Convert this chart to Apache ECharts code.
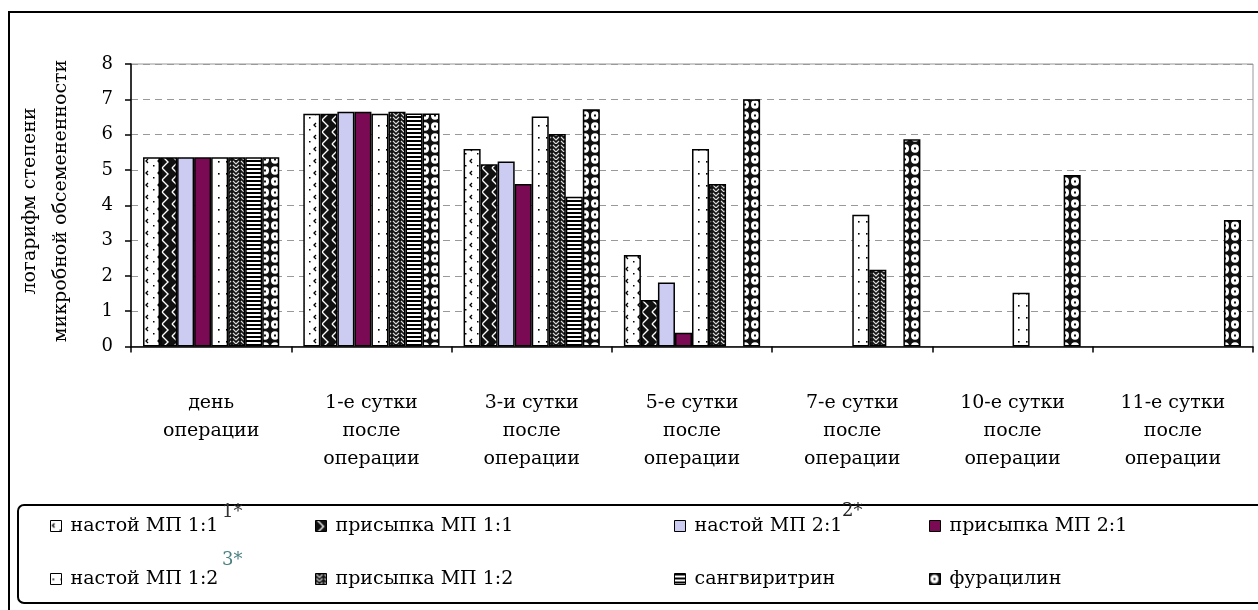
<!DOCTYPE html>
<html>
<head>
<meta charset="utf-8">
<script src="https://cdn.jsdelivr.net/npm/echarts@6/dist/echarts.min.js"></script>
<style>
html,body{margin:0;padding:0;background:#fff;}
#chart{width:1258px;height:610px;}
</style>
</head>
<body>
<div id="chart"></div>
<script>
const categories = ['день\nоперации', '1-е сутки\nпосле\nоперации', '3-и сутки\nпосле\nоперации', '5-е сутки\nпосле\nоперации', '7-е сутки\nпосле\nоперации', '10-е сутки\nпосле\nоперации', '11-е сутки\nпосле\nоперации'];
const seriesNames = ['настой МП 1:1', 'присыпка МП 1:1', 'настой МП 2:1', 'присыпка МП 2:1', 'настой МП 1:2', 'присыпка МП 1:2', 'сангвиритрин', 'фурацилин'];
const nastoy11 = [5.36, 6.59, 5.59, 2.59, null, null, null];
const prisypka11 = [5.36, 6.59, 5.16, 1.32, null, null, null];
const nastoy21 = [5.36, 6.65, 5.24, 1.81, null, null, null];
const prisypka21 = [5.36, 6.65, 4.60, 0.39, null, null, null];
const nastoy12 = [5.36, 6.59, 6.51, 5.59, 3.73, 1.52, null];
const prisypka12 = [5.36, 6.65, 6.02, 4.60, 2.17, null, null];
const sangviritrin = [5.36, 6.60, 4.24, null, null, null, null];
const furacilin = [5.36, 6.60, 6.72, 7.00, 5.87, 4.86, 3.58];
const yTicks = [0, 1, 2, 3, 4, 5, 6, 7, 8];

const FONT = 'DejaVu Serif';

function tile(w, h, draw) {
  const c = document.createElement('canvas');
  c.width = w; c.height = h;
  const ctx = c.getContext('2d');
  draw(ctx, w, h);
  return c;
}
const patterns = [
  // настой МП 1:1 : white with sparse small marks
  tile(12, 12, (ctx) => {
    ctx.fillStyle = '#fff'; ctx.fillRect(0, 0, 12, 12);
    ctx.strokeStyle = '#000'; ctx.lineWidth = 1.3;
    ctx.beginPath(); ctx.moveTo(4, 3); ctx.lineTo(2, 5); ctx.lineTo(4, 7); ctx.stroke();
    ctx.fillStyle = '#000'; ctx.fillRect(9, 9, 1.5, 1.5);
  }),
  // присыпка МП 1:1 : black with white zigzag
  tile(10, 12, (ctx) => {
    ctx.fillStyle = '#111'; ctx.fillRect(0, 0, 10, 12);
    ctx.strokeStyle = '#fff'; ctx.lineWidth = 1.4;
    ctx.beginPath(); ctx.moveTo(2, 0); ctx.lineTo(8, 6); ctx.lineTo(2, 12); ctx.stroke();
  }),
  '#ccccf2',
  '#7b0a55',
  // настой МП 1:2 : white with sparse dots
  tile(8, 12, (ctx) => {
    ctx.fillStyle = '#fff'; ctx.fillRect(0, 0, 8, 12);
    ctx.fillStyle = '#000'; ctx.fillRect(2, 5, 1.6, 1.6);
  }),
  // присыпка МП 1:2 : dark with white chevrons
  tile(8, 8, (ctx) => {
    ctx.fillStyle = '#151515'; ctx.fillRect(0, 0, 8, 8);
    ctx.strokeStyle = '#ddd'; ctx.lineWidth = 1.1;
    ctx.beginPath(); ctx.moveTo(1, 1); ctx.lineTo(4, 4); ctx.lineTo(7, 1); ctx.stroke();
    ctx.beginPath(); ctx.moveTo(1, 5); ctx.lineTo(4, 8); ctx.lineTo(7, 5); ctx.stroke();
  }),
  // сангвиритрин : horizontal stripes
  tile(4, 4, (ctx) => {
    ctx.fillStyle = '#fff'; ctx.fillRect(0, 0, 4, 4);
    ctx.fillStyle = '#000'; ctx.fillRect(0, 0, 4, 2);
  }),
  // фурацилин : black with white circles
  tile(10, 11, (ctx) => {
    ctx.fillStyle = '#111'; ctx.fillRect(0, 0, 10, 11);
    ctx.fillStyle = '#fff';
    ctx.beginPath(); ctx.ellipse(5, 5.5, 4, 4.2, 0, 0, Math.PI * 2); ctx.fill();
    ctx.fillStyle = '#111'; ctx.fillRect(4, 4.5, 2, 2);
  })
];
const dataArrays = [nastoy11, prisypka11, nastoy21, prisypka21, nastoy12, prisypka12, sangviritrin, furacilin];

function fill(i) {
  const p = patterns[i];
  return typeof p === 'string' ? p : { image: p, repeat: 'repeat' };
}

const series = seriesNames.map((name, i) => ({
  name: name,
  type: 'bar',
  data: dataArrays[i],
  barGap: '0%',
  barCategoryGap: '15%',
  itemStyle: { color: fill(i), borderColor: '#000', borderWidth: 1.5 },
  emphasis: { disabled: true },
  animation: false
}));

const legendCols = [45, 310, 669, 924];
const legends = legendCols.map((x, c) => ({
  orient: 'vertical',
  left: x,
  top: 509,
  itemWidth: 11,
  itemHeight: 11,
  itemGap: 29,
  icon: 'rect',
  selectedMode: false,
  data: [seriesNames[c], seriesNames[c + 4]],
  textStyle: { fontFamily: FONT, fontSize: 19, color: '#000', lineHeight: 24, padding: [0, 0, 0, 4] },
  itemStyle: { borderColor: '#000', borderWidth: 1 }
}));

const chart = echarts.init(document.getElementById('chart'), null, { renderer: 'canvas' });
chart.setOption({
  backgroundColor: '#fff',
  animation: false,
  grid: { left: 131, top: 64, right: 5, bottom: 263.5, show: true, borderColor: '#999', borderWidth: 1, backgroundColor: '#fff' },
  xAxis: {
    type: 'category',
    data: categories,
    axisLine: { lineStyle: { color: '#000', width: 1.5 } },
    axisTick: { show: true, alignWithLabel: false, length: 6, lineStyle: { color: '#000', width: 1.5 } },
    axisLabel: { interval: 0, fontFamily: FONT, fontSize: 19, color: '#000', lineHeight: 28, margin: 43, align: 'center' }
  },
  yAxis: {
    type: 'value',
    min: yTicks[0],
    max: yTicks[yTicks.length - 1],
    interval: 1,
    axisLine: { show: true, lineStyle: { color: '#000', width: 1.5 } },
    axisTick: { show: true, length: 6, lineStyle: { color: '#000', width: 1.5 } },
    axisLabel: { fontFamily: FONT, fontSize: 18, color: '#000', margin: 18 },
    splitLine: { show: true, lineStyle: { color: '#999', type: [7, 5], width: 1 } }
  },
  legend: legends,
  series: series,
  graphic: [
    { type: 'rect', shape: { x: 9, y: 12, width: 1270, height: 640 }, style: { fill: 'none', stroke: '#000', lineWidth: 2 }, silent: true, z: -1 },
    { type: 'rect', shape: { x: 18, y: 505, width: 1260, height: 98, r: [6, 0, 0, 6] }, style: { fill: 'none', stroke: '#000', lineWidth: 2 }, silent: true },
    { type: 'text', x: 30, y: 201, rotation: Math.PI / 2, style: { text: 'логарифм степени', font: '19px "DejaVu Serif"', fill: '#000', textAlign: 'center', textVerticalAlign: 'middle' }, silent: true },
    { type: 'text', x: 61, y: 201, rotation: Math.PI / 2, style: { text: 'микробной обсемененности', font: '19px "DejaVu Serif"', fill: '#000', textAlign: 'center', textVerticalAlign: 'middle' }, silent: true },
    { type: 'text', x: 222, y: 503, style: { text: '1*', font: '18px "DejaVu Serif"', fill: '#333', textAlign: 'left', textVerticalAlign: 'top' }, silent: true },
    { type: 'text', x: 222, y: 551, style: { text: '3*', font: '18px "DejaVu Serif"', fill: '#4a8080', textAlign: 'left', textVerticalAlign: 'top' }, silent: true },
    { type: 'text', x: 842, y: 502, style: { text: '2*', font: '18px "DejaVu Serif"', fill: '#222', textAlign: 'left', textVerticalAlign: 'top' }, silent: true }
  ]
});
</script>
</body>
</html>
